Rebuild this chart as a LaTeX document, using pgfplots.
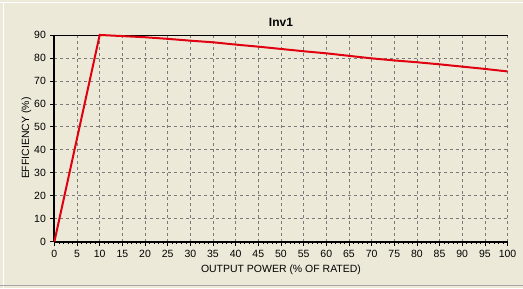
\documentclass[border=0pt]{standalone}
\usepackage{pgfplots}
\pgfplotsset{compat=1.18}
\usepackage{fontspec}
\setmainfont{Liberation Sans}
\definecolor{bg}{HTML}{ECE9D8}
\definecolor{gridc}{HTML}{7A7A7A}
\definecolor{linec}{HTML}{E00010}
\begin{document}
\begin{tikzpicture}[x=1bp,y=1bp]
\fill[bg] (0,0) rectangle (523,289);
\draw[white,line width=1bp] (0,286.5) -- (523,286.5);
\draw[white,line width=1bp] (3.5,0) -- (3.5,286.5);
\draw[gray!70,line width=1bp] (0,2.5) -- (523,2.5);
\begin{axis}[
  at={(54bp,47bp)}, anchor=south west,
  scale only axis, width=454bp, height=207bp,
  xmin=0, xmax=100, ymin=0, ymax=90,
  axis x line=bottom, axis y line=left,
  axis line style={black,line width=2bp,-},
  xtick={0,5,...,100}, ytick={0,10,...,90},
  minor x tick num=4,
  tick align=outside,
  major tick length=4bp, minor tick length=2.5bp,
  tick style={black,line width=0.6bp},
  grid=major,
  major grid style={gridc,line width=0.6bp,dash pattern=on 3bp off 3bp},
  tick label style={font=\fontsize{10.5bp}{12bp}\selectfont},
  /pgf/number format/assume math mode=true,
  xticklabel style={yshift=-1bp},
  yticklabel style={xshift=-1bp},
  xlabel={OUTPUT POWER (\% OF RATED)},
  ylabel={EFFICIENCY (\%)},
  label style={font=\fontsize{10.5bp}{12bp}\selectfont},
  xlabel style={yshift=-1bp},
  ylabel style={yshift=-4bp},
  title={\textbf{Inv1}},
  title style={font=\fontsize{12bp}{14bp}\selectfont, yshift=-1bp},
  clip=false,
]
\draw[black,line width=0.8bp] (rel axis cs:0,1) -- (rel axis cs:1,1);
\addplot[linec, line width=2bp, mark=none] coordinates {
(0,0) (10,90) (15,89.5) (20,89) (25,88.3) (30,87.5) (35,86.8) (40,85.8)
(45,84.9) (50,83.9) (55,82.9) (60,82) (65,80.9) (70,79.8) (75,78.9)
(80,78.1) (85,77.2) (90,76.2) (95,75.2) (100,74.1)
};
\end{axis}
\end{tikzpicture}
\end{document}
